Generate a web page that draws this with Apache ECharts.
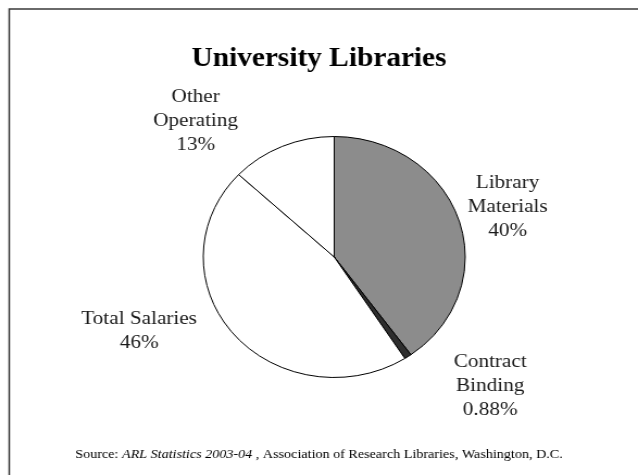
<!DOCTYPE html>
<html>
<head>
<meta charset="utf-8">
<script src="https://cdn.jsdelivr.net/npm/echarts@6/dist/echarts.min.js"></script>
<style>
  html, body { margin: 0; padding: 0; background: #fff; overflow: hidden; }
  /* the chart is laid out at 587px and widened to fill the 638px page */
  #chart { width: 587px; height: 475px; transform: scaleX(1.0869); transform-origin: 0 0; }
</style>
</head>
<body>
<div id="chart"></div>
<script>
// Share of university library spending, ARL Statistics 2003-04
const categories = ['Library\nMaterials', 'Contract\nBinding', 'Total Salaries', 'Other\nOperating'];
const shares = [40, 0.88, 46, 13];
const sliceColors = ['#8c8c8c', '#2e2e2e', '#ffffff', '#ffffff'];

// label anchor points (centre of each text block)
const labelSpots = [[467, 207], [451, 386], [128, 331], [180, 121]];

const chart = echarts.init(document.getElementById('chart'), null, { renderer: 'canvas' });
const serif = '"Liberation Serif", "Times New Roman", serif';

chart.setOption({
  backgroundColor: '#ffffff',
  animation: false,
  title: [
    {
      text: 'University Libraries',
      left: 'center',
      top: 41,
      textStyle: { fontFamily: serif, fontWeight: 'bold', fontSize: 27, color: '#000' }
    },
    {
      text: '{n|Source: }{i|ARL Statistics 2003-04}{n| , Association of Research Libraries, Washington, D.C.}',
      left: 'center',
      top: 443,
      textStyle: {
        rich: {
          n: { fontFamily: serif, fontSize: 13, fontWeight: 'normal', color: '#000' },
          i: { fontFamily: serif, fontSize: 13, fontWeight: 'normal', fontStyle: 'italic', color: '#000' }
        }
      }
    }
  ],
  graphic: [
    {
      type: 'rect',
      shape: { x: 8.5, y: 9, width: 700, height: 600 },
      style: { fill: 'none', stroke: '#3a3a3a', lineWidth: 1.5 },
      silent: true
    }
  ],
  series: [
    {
      type: 'pie',
      center: [307.5, 257],
      radius: [0, 120.5],
      startAngle: 90,
      clockwise: true,
      avoidLabelOverlap: false,
      data: categories.map((name, i) => ({
        name,
        value: shares[i],
        itemStyle: { color: sliceColors[i] }
      })),
      itemStyle: { borderColor: '#000', borderWidth: 1 },
      label: {
        show: true,
        position: 'outside',
        formatter: p => p.name + '\n' + p.value + '%',
        fontFamily: serif,
        fontSize: 19.5,
        lineHeight: 24,
        color: '#1a1a1a',
        align: 'center'
      },
      labelLine: { show: false },
      labelLayout: params => ({
        x: labelSpots[params.dataIndex][0],
        y: labelSpots[params.dataIndex][1],
        align: 'center',
        verticalAlign: 'middle'
      }),
      emphasis: { disabled: true }
    }
  ]
});
</script>
</body>
</html>
